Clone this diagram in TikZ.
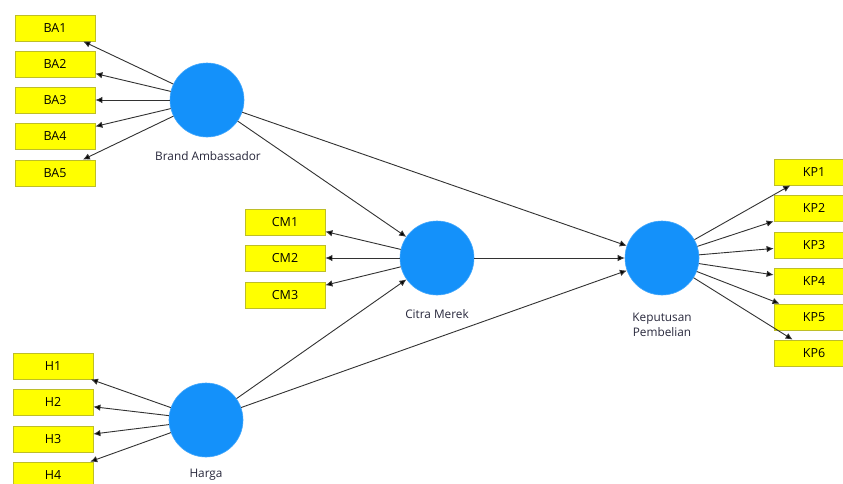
\documentclass[tikz,border=0pt]{standalone}
\usepackage{fontspec}
\setmainfont{Open Sans}
\usetikzlibrary{arrows.meta}
\definecolor{lvblue}{RGB}{20,145,250}
\definecolor{indyellow}{RGB}{255,255,0}
\definecolor{indborder}{RGB}{190,190,40}
\definecolor{linegray}{RGB}{50,50,50}
\definecolor{labelgray}{RGB}{40,40,60}
\begin{document}
\begin{tikzpicture}[x=1pt,y=-1pt,
  indbox/.style={draw=indborder,line width=0.8pt,fill=indyellow,minimum width=80pt,minimum height=26pt,inner sep=0pt,font=\fontsize{12.5}{14}\selectfont,text=black},
  latent/.style={circle,fill=lvblue,draw=lvblue!80,line width=0.6pt,minimum size=74pt,inner sep=0pt},
  lvlabel/.style={font=\fontsize{11.8}{15}\selectfont,text=labelgray,align=center},
  conn/.style={draw=linegray,line width=0.9pt,-{Latex[length=7pt,width=6.5pt,fill=black]}}
]
\useasboundingbox (0,0) rectangle (843,483);
\fill[white] (0,0) rectangle (843,483);

% latent variables
\node[latent] (BA) at (207,100) {};
\node[latent] (CM) at (437,258) {};
\node[latent] (H) at (206,420) {};
\node[latent] (KP) at (662,258) {};

\node[lvlabel] (BAl) at (208,156) {Brand Ambassador};
\node[lvlabel] (CMl) at (437,314) {Citra Merek};
\node[lvlabel] (Hl) at (206,475) {Harga};
\node[lvlabel] (KPl) at (662,325) {Keputusan\\Pembelian};

% indicators
\node[indbox] (BA1) at (55,28) {BA1};
\node[indbox] (BA2) at (55,64) {BA2};
\node[indbox] (BA3) at (55,100) {BA3};
\node[indbox] (BA4) at (55,136) {BA4};
\node[indbox] (BA5) at (55,173) {BA5};

\node[indbox] (CM1) at (285,222) {CM1};
\node[indbox] (CM2) at (285,258) {CM2};
\node[indbox] (CM3) at (285,295) {CM3};

\node[indbox] (H1) at (53,366) {H1};
\node[indbox] (H2) at (53,402) {H2};
\node[indbox] (H3) at (53,439) {H3};
\node[indbox] (H4) at (53,475) {H4};

\node[indbox] (KP1) at (814,172) {KP1};
\node[indbox] (KP2) at (814,208) {KP2};
\node[indbox] (KP3) at (814,245) {KP3};
\node[indbox] (KP4) at (814,281) {KP4};
\node[indbox] (KP5) at (814,317) {KP5};
\node[indbox] (KP6) at (814,353) {KP6};

% outer model arrows
\foreach \i in {1,...,5} \draw[conn] (BA) -- (BA\i);
\foreach \i in {1,...,3} \draw[conn] (CM) -- (CM\i);
\foreach \i in {1,...,4} \draw[conn] (H) -- (H\i);
\foreach \i in {1,...,6} \draw[conn] (KP) -- (KP\i);

% inner model arrows
\draw[conn] (BA) -- (CM);
\draw[conn] (H) -- (CM);
\draw[conn] (BA) -- (KP);
\draw[conn] (CM) -- (KP);
\draw[conn] (H) -- (KP);
\end{tikzpicture}
\end{document}
